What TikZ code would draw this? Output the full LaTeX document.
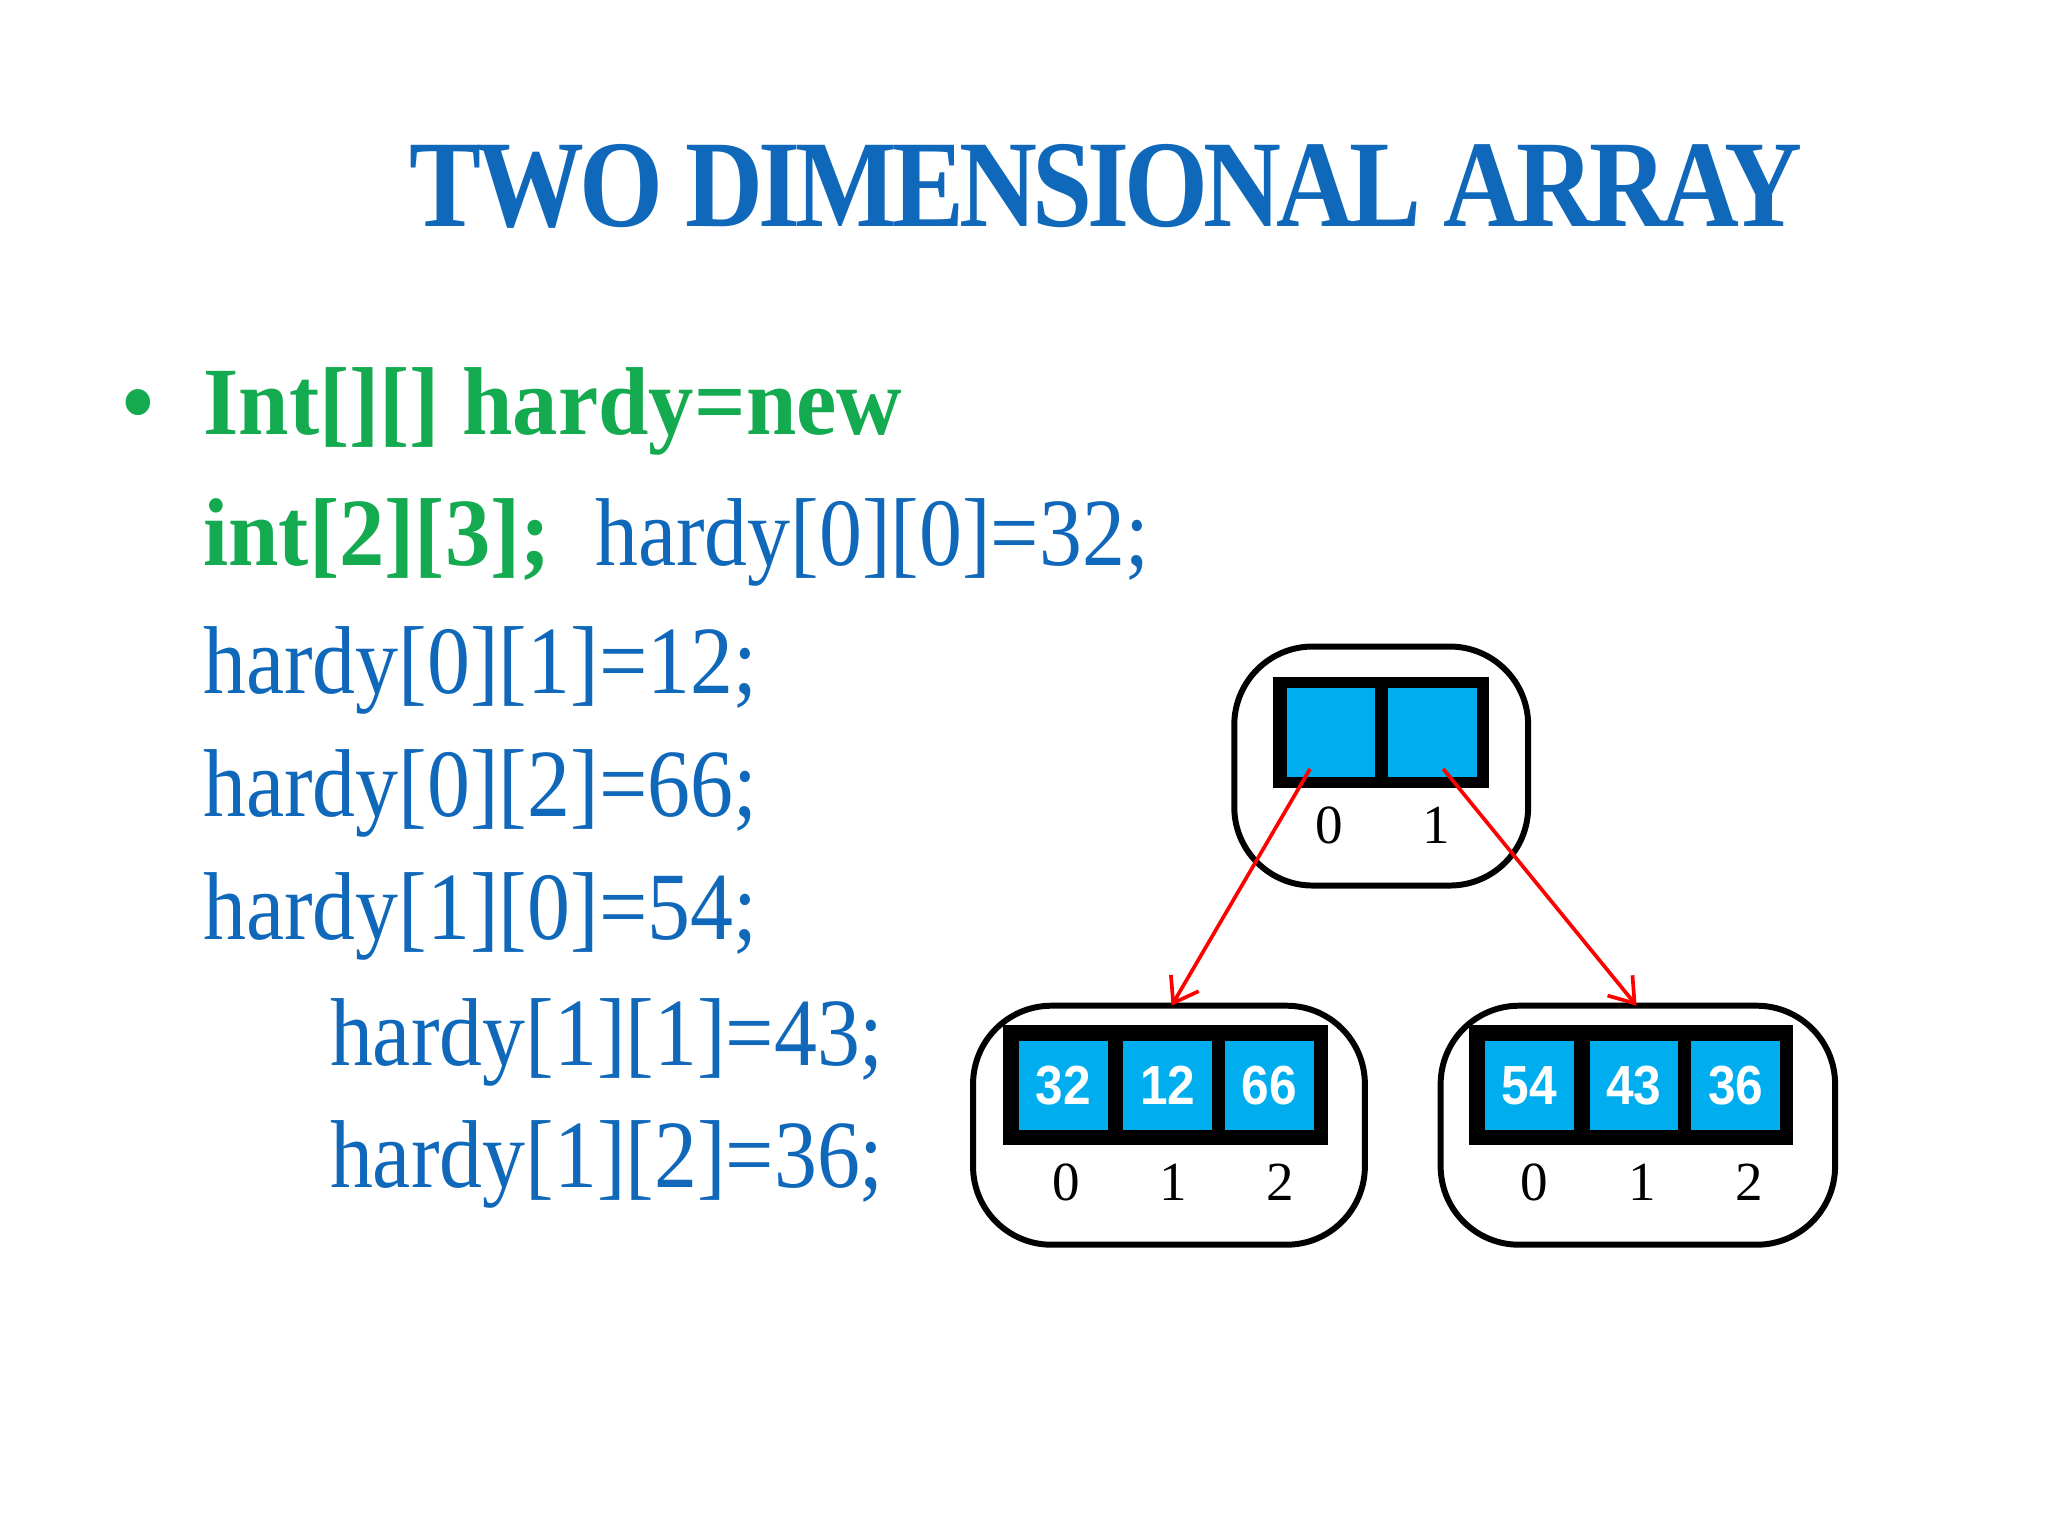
\documentclass[tikz,border=0pt]{standalone}
\usepackage{fontspec}
\setmainfont{Liberation Serif}
\newfontfamily\codefont[FakeStretch=0.89]{Liberation Serif}
\newfontfamily\declfont[FakeStretch=0.94]{Liberation Serif}
\newfontfamily\headfont[FakeStretch=0.87,LetterSpace=-4]{Liberation Serif}
\newfontfamily\cellfont[FakeStretch=0.9]{Liberation Sans}
\usetikzlibrary{arrows.meta,calc}
\definecolor{titleblue}{RGB}{16,104,186}
\definecolor{codegreen}{RGB}{20,170,80}
\definecolor{cellblue}{RGB}{0,174,239}
\tikzset{
  code/.style={anchor=base west,inner sep=0pt,font=\codefont\fontsize{21}{24}\selectfont,text=titleblue},
  decl/.style={code,text=codegreen,font=\declfont\fontsize{21}{24}\selectfont\bfseries},
  frame/.style={draw=black,line width=1.3pt,rounded corners=0.6cm},
  bar/.style={fill=black},
  cell/.style={fill=cellblue,minimum width=0.68cm,minimum height=0.68cm,inner sep=0pt,
    text=white,font=\cellfont\bfseries\fontsize{12}{13}\selectfont},
  idx/.style={font=\fontsize{12}{13}\selectfont,inner sep=0pt},
  ptr/.style={draw=red,line width=0.8pt,-{Straight Barb[length=5pt,width=7pt]}}
}
\begin{document}
\begin{tikzpicture}[x=0.01cm,y=-0.01cm]
  \useasboundingbox[fill=white] (0,0) rectangle (1568,1176);
  % heading
  \node[text=titleblue,font=\headfont\fontsize{27}{30}\selectfont\bfseries] (title) at (847,143) {TWO DIMENSIONAL ARRAY};
  % code lines
  \node[decl] (bullet) at (93,333) {\textbullet};
  \node[decl] (l1) at (155,333) {Int[][] hardy=new};
  \node[decl] (l2) at (155,433) {int[2][3];};
  \node[code] (l3) at (455,433) {hardy[0][0]=32;};
  \node[code] (l4) at (155,531) {hardy[0][1]=12;};
  \node[code] (l5) at (155,625) {hardy[0][2]=66;};
  \node[code] (l6) at (155,719) {hardy[1][0]=54;};
  \node[code] (l7) at (252,816) {hardy[1][1]=43;};
  \node[code] (l8) at (252,909) {hardy[1][2]=36;};
  % row pointer array
  \draw[frame] (945,495) rectangle (1170,678);
  \fill[bar] (975,518) rectangle (1140,603);
  \node[cell] (t0) at (1019,561) {};
  \node[cell] (t1) at (1097,561) {};
  \node[idx] (ti0) at (1018,632) {0};
  \node[idx] (ti1) at (1100,632) {1};
  % row 0
  \draw[frame] (745,770) rectangle (1045,953);
  \fill[bar] (768,785) rectangle (1017,877);
  \node[cell] (a0) at (814,831) {32};
  \node[cell] (a1) at (894,831) {12};
  \node[cell] (a2) at (972,831) {66};
  \node[idx] (ai0) at (816,905) {0};
  \node[idx] (ai1) at (898,905) {1};
  \node[idx] (ai2) at (980,905) {2};
  % row 1
  \draw[frame] (1103,770) rectangle (1405,953);
  \fill[bar] (1125,785) rectangle (1373,877);
  \node[cell] (b0) at (1171,831) {54};
  \node[cell] (b1) at (1251,831) {43};
  \node[cell] (b2) at (1329,831) {36};
  \node[idx] (bi0) at (1175,905) {0};
  \node[idx] (bi1) at (1257,905) {1};
  \node[idx] (bi2) at (1339,905) {2};
  % pointers
  \coordinate (r0) at (897,770);
  \coordinate (r1) at (1253,770);
  \draw[ptr] ($(t0.south)+(-16,-7)$) -- (r0);
  \draw[ptr] ($(t1.south)+(8,-7)$) -- (r1);
\end{tikzpicture}
\end{document}
